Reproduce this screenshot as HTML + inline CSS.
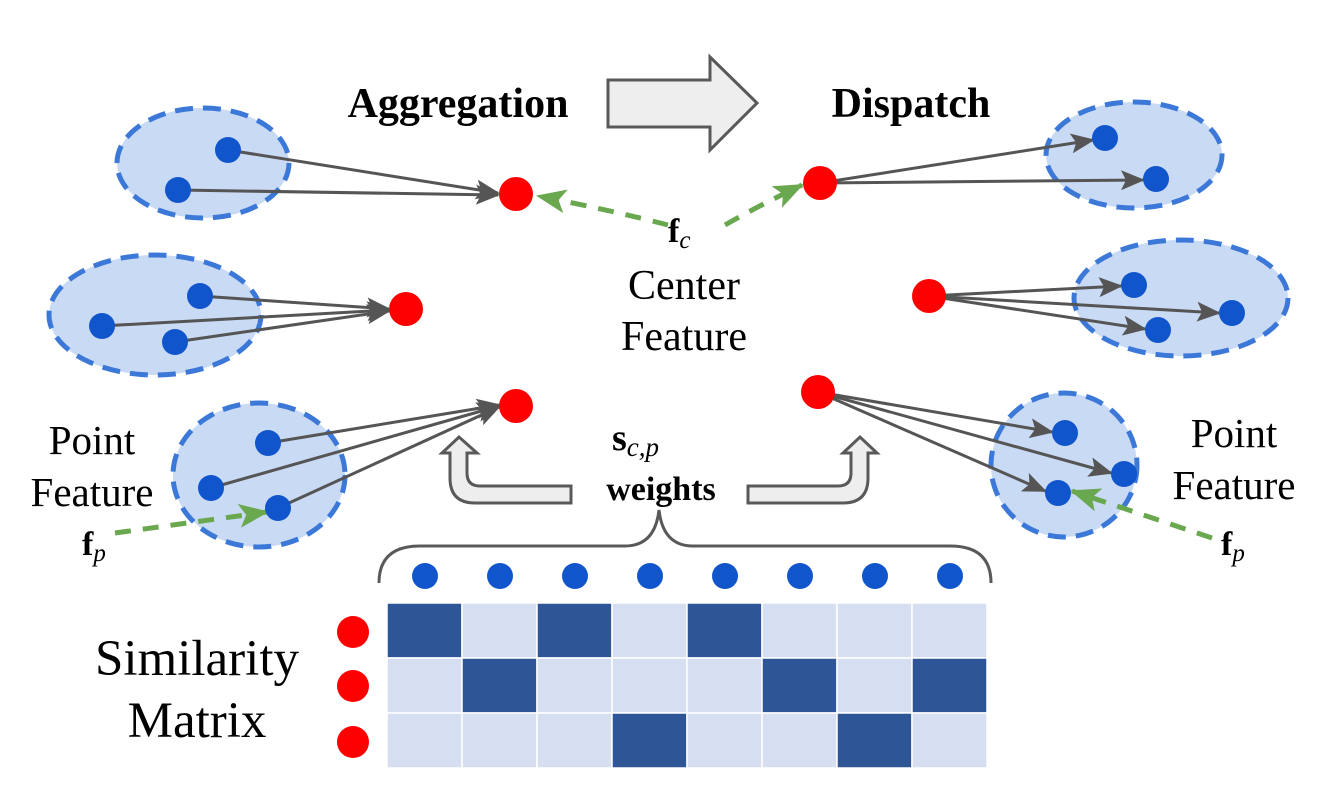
<!DOCTYPE html>
<html><head><meta charset="utf-8"><style>
html,body{margin:0;padding:0;background:#fff;}
svg{display:block;}
text{font-family:"Liberation Serif",serif;}
</style></head><body>
<svg width="1326" height="785" viewBox="0 0 1326 785" xmlns="http://www.w3.org/2000/svg">
<defs>
<marker id="ah" markerWidth="24" markerHeight="20" refX="22" refY="10" orient="auto" markerUnits="userSpaceOnUse" viewBox="0 0 24 20"><path d="M0,0 L24,10 L0,20 L5,10 Z" fill="#555"/></marker>
<marker id="ag" markerWidth="30" markerHeight="24" refX="28" refY="12" orient="auto" markerUnits="userSpaceOnUse" viewBox="0 0 30 24"><path d="M0,0 L30,12 L0,24 L7,12 Z" fill="#6aa84f"/></marker>
</defs>
<g fill="#c9daf5" stroke="#3c78d8" stroke-width="5" stroke-dasharray="18,10">
<ellipse cx="203" cy="163" rx="86" ry="55"/>
<ellipse cx="155" cy="315" rx="106" ry="60"/>
<ellipse cx="259" cy="475" rx="86" ry="72"/>
<ellipse cx="1134" cy="155" rx="88" ry="53"/>
<ellipse cx="1181" cy="298" rx="107" ry="58"/>
<ellipse cx="1064" cy="465" rx="73" ry="72"/>
</g>
<g stroke="#555" stroke-width="3" fill="none">
<line x1="228" y1="150" x2="498" y2="193" marker-end="url(#ah)"/>
<line x1="178" y1="190" x2="498" y2="195" marker-end="url(#ah)"/>
<line x1="200" y1="296" x2="389" y2="309" marker-end="url(#ah)"/>
<line x1="102" y1="326" x2="389" y2="310" marker-end="url(#ah)"/>
<line x1="175" y1="342" x2="389" y2="311" marker-end="url(#ah)"/>
<line x1="268" y1="443" x2="499" y2="405" marker-end="url(#ah)"/>
<line x1="211" y1="488" x2="499" y2="406" marker-end="url(#ah)"/>
<line x1="278" y1="508" x2="499" y2="407" marker-end="url(#ah)"/>
<line x1="820" y1="183" x2="1093" y2="140" marker-end="url(#ah)"/>
<line x1="820" y1="183" x2="1143" y2="180" marker-end="url(#ah)"/>
<line x1="929" y1="296" x2="1121" y2="286" marker-end="url(#ah)"/>
<line x1="929" y1="296" x2="1219" y2="313" marker-end="url(#ah)"/>
<line x1="929" y1="296" x2="1145" y2="329" marker-end="url(#ah)"/>
<line x1="818" y1="392" x2="1052" y2="432" marker-end="url(#ah)"/>
<line x1="818" y1="392" x2="1111" y2="473" marker-end="url(#ah)"/>
<line x1="818" y1="392" x2="1045" y2="491" marker-end="url(#ah)"/>
</g>
<g stroke="#6aa84f" stroke-width="5" fill="none" stroke-dasharray="16,12">
<path d="M668,225 Q610,210 538,196" marker-end="url(#ag)"/>
<path d="M725,225 Q760,205 802,185" marker-end="url(#ag)"/>
<path d="M115,533 L267,512" marker-end="url(#ag)"/>
<path d="M1212,538 L1072,491" marker-end="url(#ag)"/>
</g>
<g fill="#1155cc">
<circle cx="228" cy="150" r="13"/><circle cx="178" cy="190" r="13"/>
<circle cx="200" cy="296" r="13"/><circle cx="102" cy="326" r="13"/><circle cx="175" cy="342" r="13"/>
<circle cx="268" cy="443" r="13"/><circle cx="211" cy="488" r="13"/><circle cx="278" cy="508" r="13"/>
<circle cx="1105" cy="138" r="13"/><circle cx="1156" cy="179" r="13"/>
<circle cx="1134" cy="285" r="13"/><circle cx="1232" cy="313" r="13"/><circle cx="1158" cy="330" r="13"/>
<circle cx="1065" cy="433" r="13"/><circle cx="1124" cy="474" r="13"/><circle cx="1058" cy="493" r="13"/>
<circle cx="425" cy="576" r="13"/><circle cx="500" cy="576" r="13"/><circle cx="575" cy="576" r="13"/><circle cx="650" cy="576" r="13"/><circle cx="725" cy="576" r="13"/><circle cx="800" cy="576" r="13"/><circle cx="875" cy="576" r="13"/><circle cx="950" cy="576" r="13"/>
</g>
<g fill="#ff0000">
<circle cx="516" cy="194" r="17"/><circle cx="406" cy="309" r="17"/><circle cx="516" cy="406" r="17"/>
<circle cx="820" cy="183" r="17"/><circle cx="929" cy="296" r="17"/><circle cx="818" cy="392" r="17"/>
<circle cx="353" cy="632" r="16"/><circle cx="353" cy="686" r="16"/><circle cx="353" cy="742" r="16"/>
</g>
<path d="M608,80 H710 V57 L757,103 L710,150 V127 H608 Z" fill="#eeeeee" stroke="#595959" stroke-width="3"/>
<path d="M571,486 H480 Q467,486 467,473 V453 H477 L459,437 L442,453 H450 V478 Q450,503 475,503 H571 Z" fill="#eeeeee" stroke="#595959" stroke-width="3"/>
<path d="M748,486 H838 Q851,486 851,473 V453 H843 L860,437 L877,453 H868 V478 Q868,503 843,503 H748 Z" fill="#eeeeee" stroke="#595959" stroke-width="3"/>
<path d="M379,583 Q379,546 420,546 H625 Q655,546 659,510 Q663,546 693,546 H950 Q991,546 991,583" fill="none" stroke="#595959" stroke-width="3"/>
<g stroke="#ffffff" stroke-width="1.5">
<rect x="387" y="603" width="75" height="55" fill="#2e5596"/><rect x="462" y="603" width="75" height="55" fill="#d6dff2"/><rect x="537" y="603" width="75" height="55" fill="#2e5596"/><rect x="612" y="603" width="75" height="55" fill="#d6dff2"/><rect x="687" y="603" width="75" height="55" fill="#2e5596"/><rect x="762" y="603" width="75" height="55" fill="#d6dff2"/><rect x="837" y="603" width="75" height="55" fill="#d6dff2"/><rect x="912" y="603" width="75" height="55" fill="#d6dff2"/>
<rect x="387" y="658" width="75" height="55" fill="#d6dff2"/><rect x="462" y="658" width="75" height="55" fill="#2e5596"/><rect x="537" y="658" width="75" height="55" fill="#d6dff2"/><rect x="612" y="658" width="75" height="55" fill="#d6dff2"/><rect x="687" y="658" width="75" height="55" fill="#d6dff2"/><rect x="762" y="658" width="75" height="55" fill="#2e5596"/><rect x="837" y="658" width="75" height="55" fill="#d6dff2"/><rect x="912" y="658" width="75" height="55" fill="#2e5596"/>
<rect x="387" y="713" width="75" height="55" fill="#d6dff2"/><rect x="462" y="713" width="75" height="55" fill="#d6dff2"/><rect x="537" y="713" width="75" height="55" fill="#d6dff2"/><rect x="612" y="713" width="75" height="55" fill="#2e5596"/><rect x="687" y="713" width="75" height="55" fill="#d6dff2"/><rect x="762" y="713" width="75" height="55" fill="#d6dff2"/><rect x="837" y="713" width="75" height="55" fill="#2e5596"/><rect x="912" y="713" width="75" height="55" fill="#d6dff2"/>
</g>
<g fill="#000">
<text x="458" y="117" font-size="42" font-weight="bold" text-anchor="middle">Aggregation</text>
<text x="911" y="117" font-size="42" font-weight="bold" text-anchor="middle">Dispatch</text>
<text x="684" y="299" font-size="42" text-anchor="middle">Center</text>
<text x="684" y="350" font-size="42" text-anchor="middle">Feature</text>
<text x="92" y="454" font-size="41" text-anchor="middle">Point</text>
<text x="92" y="506" font-size="41" text-anchor="middle">Feature</text>
<text x="1234" y="447" font-size="41" text-anchor="middle">Point</text>
<text x="1234" y="499" font-size="41" text-anchor="middle">Feature</text>
<text x="197" y="675" font-size="51" text-anchor="middle">Similarity</text>
<text x="197" y="737" font-size="51" text-anchor="middle">Matrix</text>
<text x="661" y="500" font-size="34" font-weight="bold" text-anchor="middle">weights</text>
<text x="612" y="450" font-size="38" font-weight="bold">s<tspan font-size="27" font-style="italic" font-weight="normal" dy="6">c,p</tspan></text>
<text x="668" y="242" font-size="34" font-weight="bold">f<tspan font-size="25" font-style="italic" font-weight="normal" dy="6">c</tspan></text>
<text x="82" y="555" font-size="34" font-weight="bold">f<tspan font-size="25" font-style="italic" font-weight="normal" dy="6">p</tspan></text>
<text x="1221" y="555" font-size="34" font-weight="bold">f<tspan font-size="25" font-style="italic" font-weight="normal" dy="6">p</tspan></text>
</g>
</svg>
</body></html>
